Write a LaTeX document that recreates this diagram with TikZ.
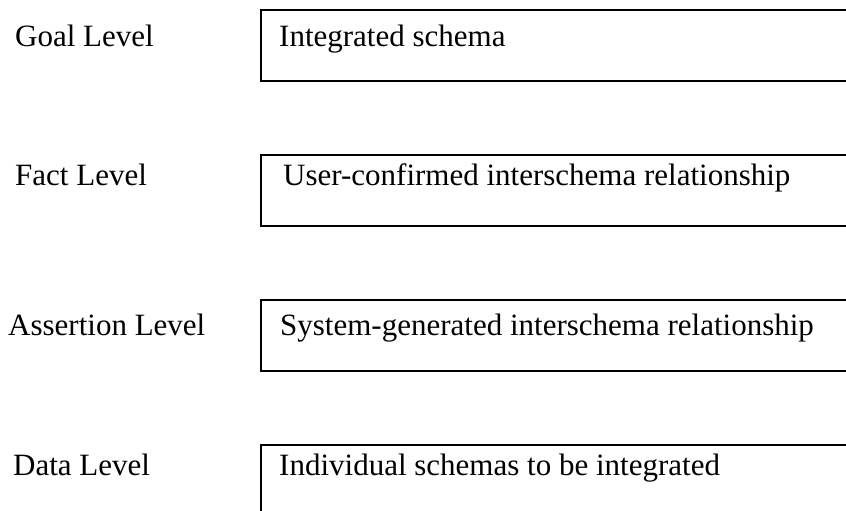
\documentclass[tikz,border=0pt]{standalone}
\usepackage{fontspec}
\setmainfont{Liberation Serif}
\usepackage{tikz}

\begin{document}
\begin{tikzpicture}
	[x=1pt,y=1pt,
	lvl/.style={anchor=base west,inner sep=0pt,font=\fontsize{31}{36}\selectfont},
	txt/.style={anchor=base west,inner sep=0pt,font=\fontsize{31}{36}\selectfont},
	box/.style={rectangle,anchor=north west,draw=black,line width=1.8pt,minimum width=620pt,minimum height=71pt,inner sep=0pt}]
	\useasboundingbox (0,0) rectangle (846,-511);
	% levels
	\node[lvl] (goal) at (15,-47) {Goal Level};
	\node[lvl] (fact) at (15,-185) {Fact Level};
	\node[lvl] (assert) at (8,-335) {Assertion Level};
	\node[lvl] (data) at (13,-475) {Data Level};
	% boxes
	\node[box] (goalbox) at (260,-9) {};
	\node[box] (factbox) at (260,-154) {};
	\node[box] (assertbox) at (260,-299) {};
	\node[box] (databox) at (260,-444) {};
	\node[txt] (goaltxt) at (279,-47) {Integrated schema};
	\node[txt] (facttxt) at (283,-185) {User-confirmed interschema relationship};
	\node[txt] (asserttxt) at (280,-335) {System-generated interschema relationship};
	\node[txt] (datatxt) at (279,-475) {Individual schemas to be integrated};
\end{tikzpicture}
\end{document}
